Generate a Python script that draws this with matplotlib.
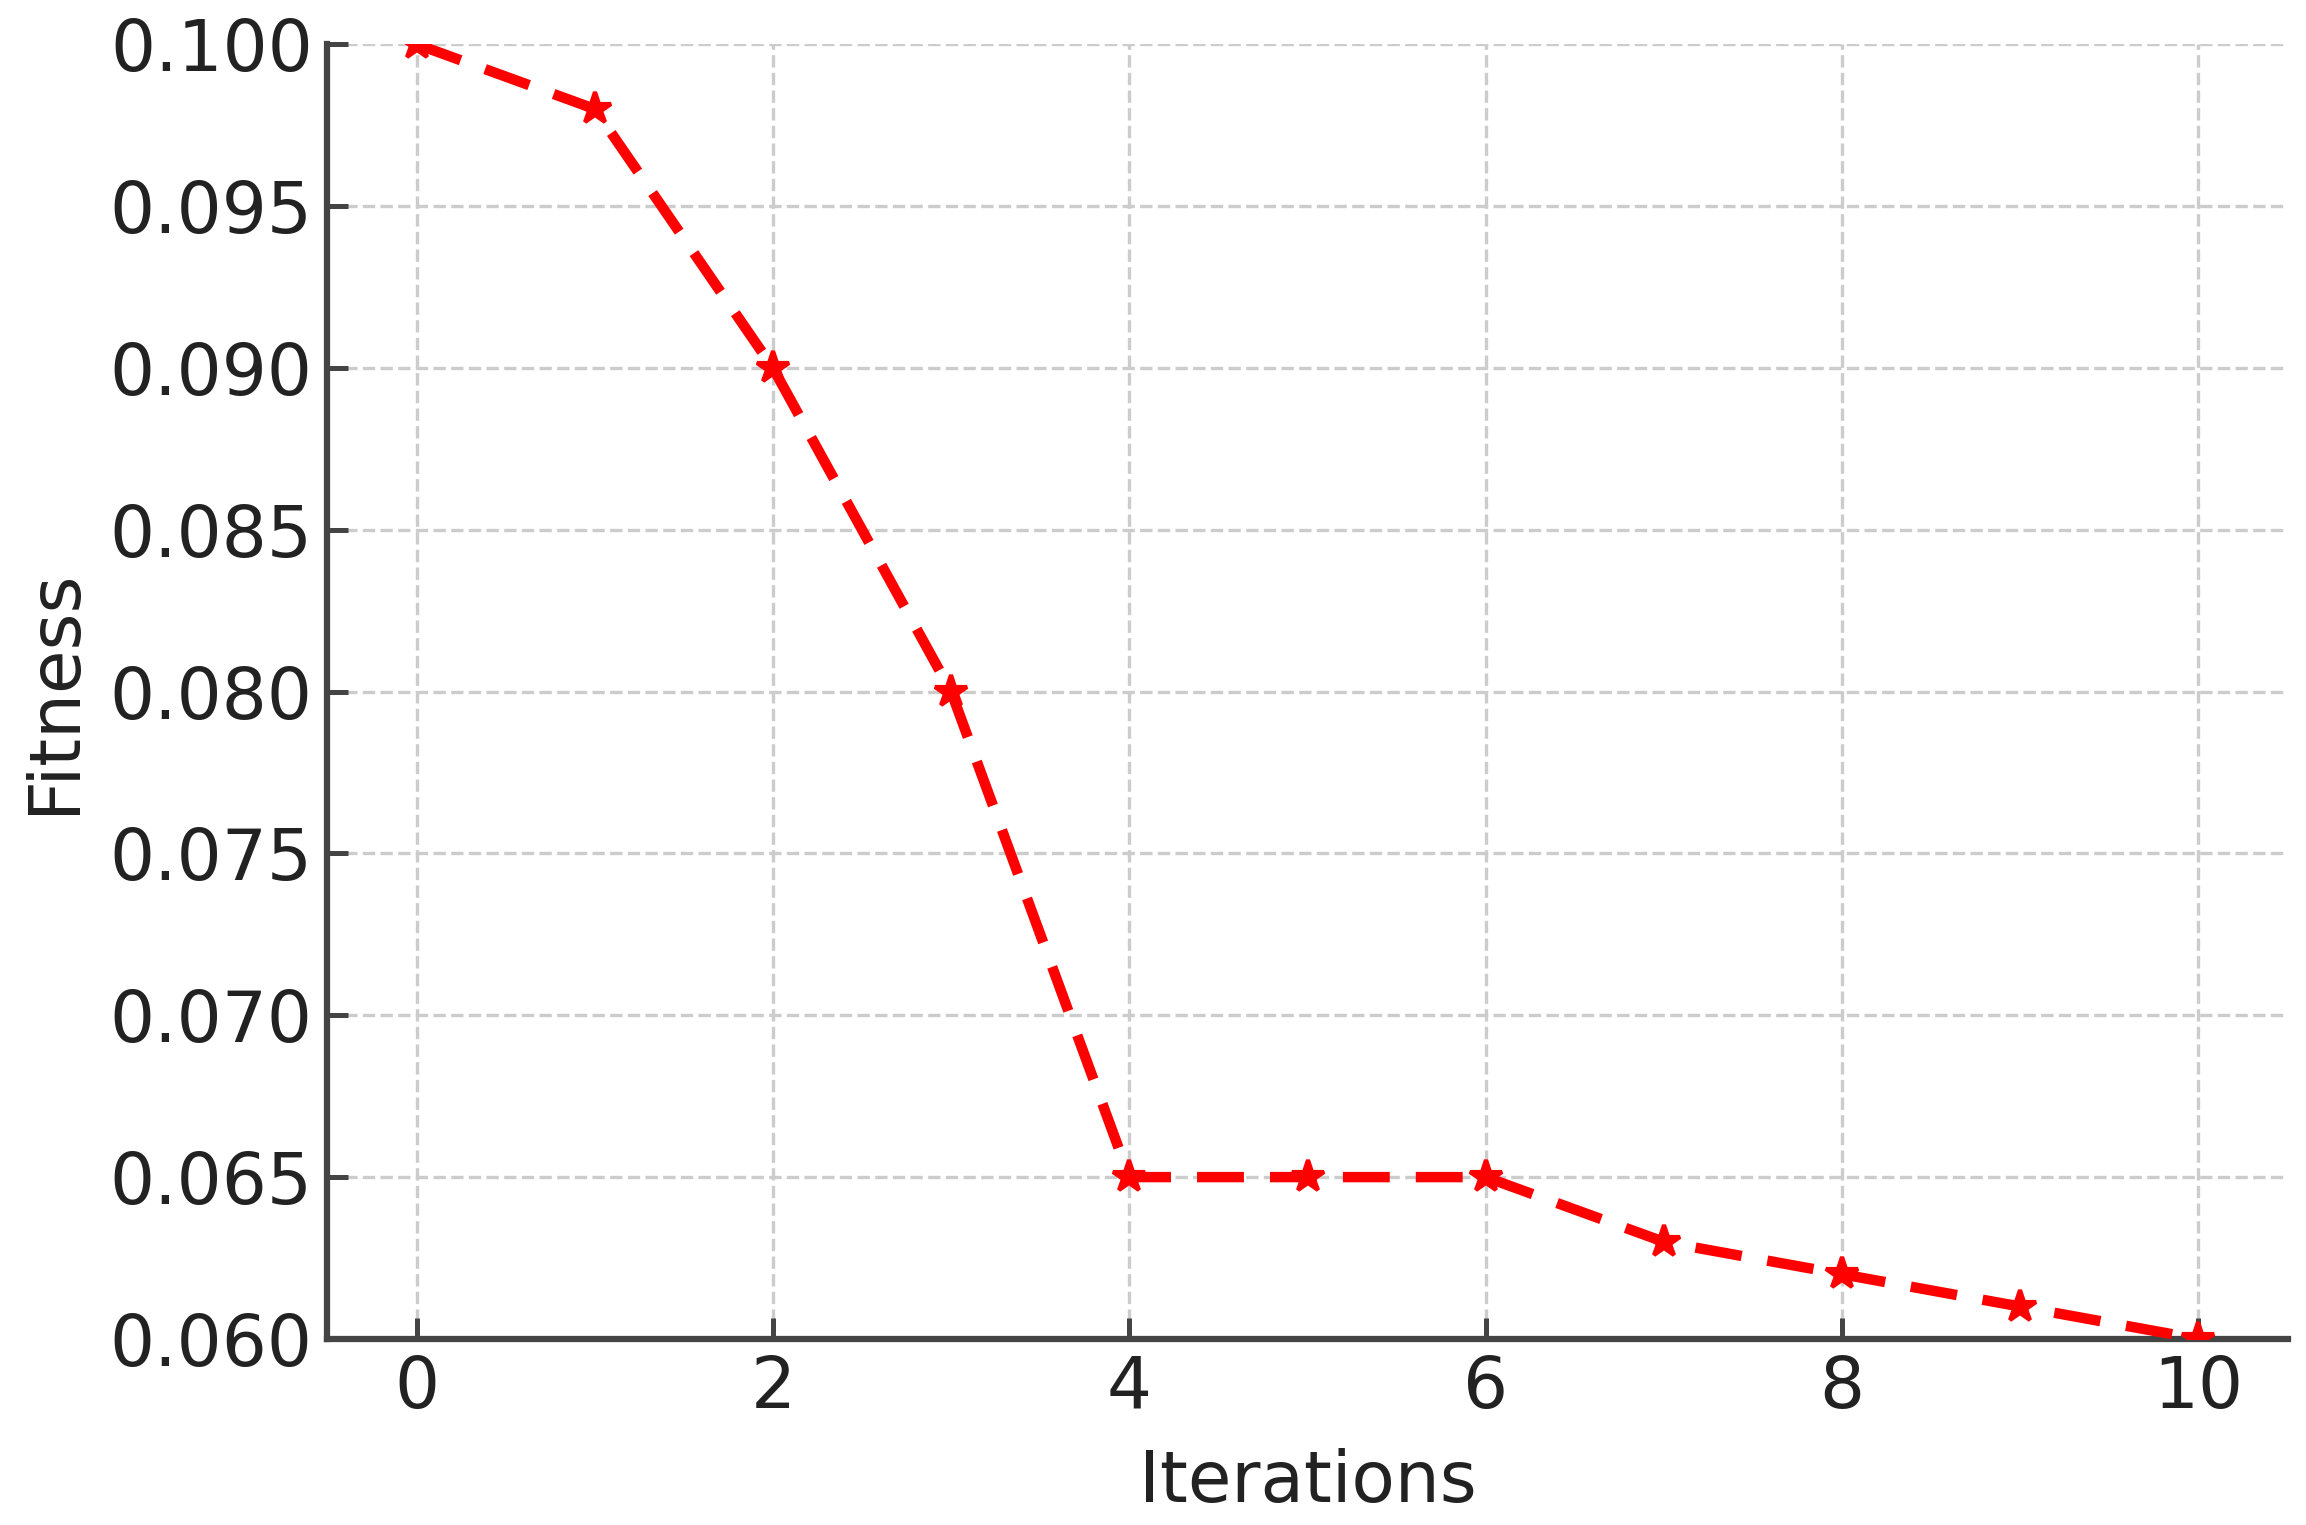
import numpy as np
import matplotlib
matplotlib.use('Agg')
import matplotlib.pyplot as plt

# data
iterations = [0, 1, 2, 3, 4, 5, 6, 7, 8, 9, 10]
fitness = [0.100, 0.098, 0.090, 0.080, 0.065, 0.065, 0.065, 0.063, 0.062, 0.061, 0.060]

fig, ax = plt.subplots(figsize=(2306/300, 1525/300), dpi=300)
fig.subplots_adjust(left=0.142, right=0.992, top=0.971, bottom=0.122)

ax.plot(iterations, fitness, color='red', linestyle='--', linewidth=2.5,
        marker='*', markersize=8, dashes=(4.5, 2.5), zorder=3)

ax.set_xlim(-0.5, 10.5)
ax.set_ylim(0.060, 0.100)
ax.set_xticks([0, 2, 4, 6, 8, 10])
ax.set_yticks(np.arange(0.060, 0.1001, 0.005))
ax.yaxis.set_major_formatter(matplotlib.ticker.FormatStrFormatter('%.3f'))

ax.set_xlabel('Iterations', fontsize=17, color='#222222', labelpad=6)
ax.set_ylabel('Fitness', fontsize=17, color='#222222', labelpad=5)
ax.tick_params(direction='in', length=5, width=1.2, labelsize=17,
               colors='#444444', labelcolor='#222222')

ax.grid(True, linestyle='--', color='#cccccc', linewidth=0.8)
ax.set_axisbelow(True)
ax.spines['top'].set_visible(False)
ax.spines['right'].set_visible(False)
for s in ['left', 'bottom']:
    ax.spines[s].set_linewidth(1.5)
    ax.spines[s].set_color('#444444')

fig.savefig('out.png', dpi=300)
